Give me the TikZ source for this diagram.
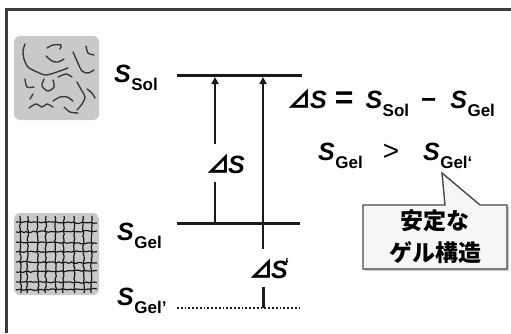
\documentclass[tikz,border=0pt]{standalone}
\usepackage{fontspec}
\setmainfont{Liberation Sans}
\newfontfamily\cjk{Noto Sans CJK JP}
\usetikzlibrary{arrows.meta,decorations.pathmorphing}

% entropy symbol with an upright subscript
\newcommand\symS{{\fontsize{25}{25}\selectfont\bfseries\itshape S}}
\newcommand\subx[1]{\raisebox{-8pt}{\fontsize{17}{17}\selectfont\bfseries #1}}
\newcommand\ent[1]{\symS\kern0.5pt\subx{#1}}
\newcommand\tri{{\cjk\bfseries\fontsize{24}{24}\selectfont ⊿}}
\newcommand\grv{\char"60\relax}

\definecolor{ink}{HTML}{1A1A1A}
\definecolor{swatch}{HTML}{C9C9C9}
\definecolor{fiber}{HTML}{3C3C3C}

\tikzset{
  frameline/.style={draw=ink!85, line width=3pt},
  swatchbox/.style={fill=swatch, rounded corners=6pt},
  chain/.style={draw=fiber, line width=1.4pt, line cap=round},
  mesh/.style={draw=ink, line width=1.2pt,
    decorate, decoration={random steps, segment length=2.5pt, amplitude=0.7pt}},
  level/.style={draw=ink, line width=3pt},
  sublevel/.style={draw=ink, line width=2.2pt, dash pattern=on 1.8pt off 2pt},
  rise/.style={draw=ink, line width=2.4pt, -{Triangle[length=7pt,width=7pt]}},
  stem/.style={draw=ink, line width=2.4pt},
  lbl/.style={inner sep=0pt, anchor=base west},
  callout/.style={fill=gray!7, draw=ink!80, line width=1.4pt, line join=miter},
}

\begin{document}
\begin{tikzpicture}[x=1pt,y=-1pt]
\useasboundingbox (0,0) rectangle (511,333);

% frame edges
\draw[frameline] (6,333) -- (6,9) -- (511,9);

% sol swatch: loose chains
\fill[swatchbox] (14,36) rectangle (99,120);
\begin{scope}
\draw[chain] plot[smooth] coordinates {(25,44) (23,51) (24,59) (28,67) (37,72) (46,75) (57,72) (68,68)};
\draw[chain] plot[smooth] coordinates {(47,48) (53,45) (61,45) (60,49)};
\draw[chain] plot[smooth] coordinates {(46,56) (52,61) (58,62) (64,59)};
\draw[chain] plot[smooth] coordinates {(73,52) (77,61) (82,71) (88,73) (94,70)};
\draw[chain] plot[smooth] coordinates {(86,46) (88,53) (94,55)};
\draw[chain] plot[smooth] coordinates {(25,79) (27,87) (34,87)};
\draw[chain] plot[smooth] coordinates {(44,79) (42,86) (48,91) (54,87) (53,80)};
\draw[chain] plot[smooth] coordinates {(58,77) (66,74) (72,77)};
\draw[chain] plot[smooth] coordinates {(77,82) (82,91) (85,97) (82,104) (77,110)};
\draw[chain] plot[smooth] coordinates {(29,108) (36,104) (42,107) (47,104) (53,107)};
\draw[chain] plot[smooth] coordinates {(53,101) (60,97) (67,97) (73,101)};
\draw[chain] plot[smooth] coordinates {(64,107) (70,112) (78,113)};
\draw[chain] plot[smooth] coordinates {(87,89) (92,93) (95,98)};
\draw[chain] plot[smooth] coordinates {(33,94) (30,99)};
\end{scope}

% gel swatch: network
\fill[swatchbox] (14,213) rectangle (99,295);
\begin{scope}
\pgfmathsetseed{7}
\clip[rounded corners=6pt] (14,213) rectangle (99,295);
\foreach \y/\t in {222/1,232/-1,242/1.5,252/-0.5,262/1,272/-1.5,282/0.5,290/-1}
  \draw[mesh] (16,\y) -- (97,\y+\t);
\foreach \x/\t in {20/1,28/-1,37/1.5,46/-0.5,55/1,64/-1,74/0.5,83/1,92/-1}
  \draw[mesh] (\x,216) -- (\x+\t,293);
\end{scope}

% state labels
\node[lbl] (lsol) at (114,82) {\ent{Sol}};
\node[lbl] (lgel) at (117,240) {\ent{Gel}};
\node[lbl] (lgelp) at (117,305) {\ent{Gel'}};

% levels
\coordinate (solL) at (177,75);  \coordinate (solR) at (302,75);
\coordinate (gelL) at (177,223); \coordinate (gelR) at (300,223);
\coordinate (gpL) at (177,308);  \coordinate (gpR) at (302,308);
\draw[level] (solL) -- (solR);
\draw[level] (gelL) -- (gelR);
\draw[sublevel] (gpL) -- (gpR);

% arrow from gel to sol, broken by its label
\coordinate (a1t) at (215,77);
\coordinate (a1b) at (215,223);
\node[lbl, inner ysep=9pt] (ds1) at (206,173) {\tri\kern-2pt\symS};
\draw[stem] (a1b) -- (a1b |- ds1.south);
\draw[rise] (a1b |- ds1.north) -- (a1t);

% arrow from gel' to sol, broken by its label
\coordinate (a2t) at (263,77);
\coordinate (a2b) at (263,308);
\node[lbl, inner ysep=9pt] (ds2) at (249,278) {\tri\kern-2pt\symS\kern-3pt\raisebox{9pt}{\fontsize{16}{16}\selectfont\bfseries\grv}};
\draw[stem, line width=3pt] (a2b) -- (a2b |- ds2.south);
\draw[rise] (a2b |- ds2.north) -- (a2t);

% relations
\node[lbl] (eq1) at (287,108) {\tri\kern-1pt\symS\hspace{8pt}{\fontsize{32}{32}\selectfont\bfseries =}\hspace{12pt}\ent{Sol}\hspace{12pt}{\fontsize{26}{26}\selectfont\bfseries −}\hspace{14pt}\ent{Gel}};
\node[lbl] (eq2) at (318,160) {\ent{Gel}\hspace{20pt}{\fontsize{28}{28}\selectfont >}\hspace{24pt}\ent{Gel\grv}};

% callout
\coordinate (tip) at (442,173);
\fill[gray!40] (365,207) -- (509,207) -- (509,271) -- (365,271) -- cycle;
\draw[callout] (363,205) -- (445,205) -- (tip) -- (480,205) -- (507,205) -- (507,269) -- (363,269) -- cycle;
\node[align=center, inner sep=0pt, font=\cjk\bfseries\fontsize{23}{32}\selectfont] (note) at (435,237)
  {安定な\\ゲル構造};
\end{tikzpicture}
\end{document}
